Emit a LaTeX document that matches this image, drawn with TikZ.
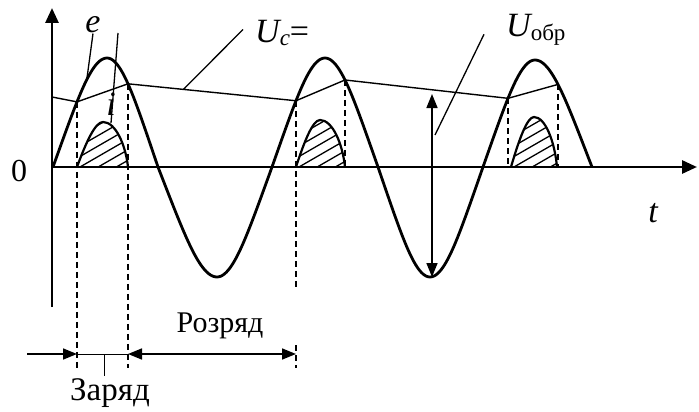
\documentclass[tikz,border=0pt]{standalone}
\usepackage{fontspec}
\setmainfont{Liberation Serif}
\usetikzlibrary{arrows.meta,calc}
\newcommand\pulseshape[4]{(#1,167) .. controls ({#1+0.35*(#2-#1)},{167-0.55*(167-#3)}) and ({#2-0.3*(#2-#1)},#3) .. (#2,#3) .. controls ({#2+0.5*(#4-#2)},#3) and ({#4-0.1*(#4-#2)},{167-0.5*(167-#3)}) .. (#4,167)}
\newcommand\hatchedpulse[4]{%
  \begin{scope}
    \clip \pulseshape{#1}{#2}{#3}{#4};
    \foreach \k in {0,...,9} \draw[hatch] ({#1-10},{122+10.5*\k}) -- ++(80,-46.2);
  \end{scope}
  \draw[pulse] \pulseshape{#1}{#2}{#3}{#4};}
\begin{document}
\begin{tikzpicture}[x=1pt,y=-1pt,
  declare function={wq(\q)=sin(\q)*(1-0.12*cos(\q)*cos(\q));},
  axis/.style={line width=2.8pt,-{Triangle[length=15pt,width=13pt]}},
  wave/.style={line width=2.8pt,line join=round},
  ucline/.style={line width=1.4pt,line join=round},
  dashline/.style={line width=1.5pt,dash pattern=on 6pt off 4pt},
  leader/.style={line width=1.3pt},
  pulse/.style={line width=2.2pt,line join=round},
  hatch/.style={line width=1.3pt},
  dim/.style={line width=1.6pt},
  thin/.style={line width=1pt},
  lbl/.style={font=\fontsize{34}{34}\selectfont\itshape,inner sep=0pt},
  txt/.style={font=\fontsize{30}{30}\selectfont,inner sep=0pt}
]
\useasboundingbox (0,0) rectangle (699,412);

% axes
\coordinate (ybot) at (52,307);
\coordinate (ytop) at (52,8);
\coordinate (xl) at (52,167);
\coordinate (xr) at (697,167);
\draw[axis] (ybot) -- (ytop);
\draw[axis] (xl) -- (xr);
\node[font=\fontsize{32}{32}\selectfont,inner sep=0pt] (zero) at (19,171) {0};
\node[lbl,anchor=base] (t) at (653,222) {t};

% capacitor voltage vertices
\coordinate (u0) at (52,97);
\coordinate (u1) at (77,{167-109*wq(40)});
\coordinate (u2) at (128,{167-109*wq(127.06)});
\coordinate (u3) at (296,{167-109*wq(40.75)});
\coordinate (u4) at (345,{167-109*wq(123.96)});
\coordinate (u5) at (508,{167-107*wq(43.27)});
\coordinate (u6) at (558,{167-107*wq(126.3)});

% dashed verticals
\draw[dashline] (u1) -- (77,368);
\draw[dashline] (u2) -- (128,368);
\draw[dashline] (u3) -- (296,290);
\draw[dashline] (296,345) -- (296,368);
\draw[dashline] (u4) -- (345,167);
\draw[dashline] (u5) -- (508,167);
\draw[dashline] (u6) -- (558,167);

% current pulses
\hatchedpulse{77}{103}{122}{128}
\hatchedpulse{296}{320}{120}{345}
\hatchedpulse{511}{534}{117}{557}

% e(t)
\draw[wave] plot[domain=0:90,samples=30] ({53+54*\x/90},{167-109*wq(\x)})
 -- plot[domain=90:180,samples=30] ({107+51*(\x-90)/90},{167-109*wq(\x)})
 -- plot[domain=180:270,samples=30] ({158+59*(\x-180)/90},{167-110*wq(\x)})
 -- plot[domain=270:360,samples=30] ({217+55*(\x-270)/90},{167-110*wq(\x)})
 -- plot[domain=360:450,samples=30] ({272+53*(\x-360)/90},{167-109*wq(\x)})
 -- plot[domain=450:540,samples=30] ({325+53*(\x-450)/90},{167-109*wq(\x)})
 -- plot[domain=540:630,samples=30] ({378+52*(\x-540)/90},{167-110*wq(\x)})
 -- plot[domain=630:720,samples=30] ({430+53*(\x-630)/90},{167-110*wq(\x)})
 -- plot[domain=720:810,samples=30] ({483+52*(\x-720)/90},{167-107*wq(\x)})
 -- plot[domain=810:900,samples=30] ({535+57*(\x-810)/90},{167-107*wq(\x)});

% Uc line
\draw[ucline] (u0) -- (u1) -- (u2) -- (u3) -- (u4) -- (u5) -- (u6);

% labels and leaders
\node[lbl,anchor=base] (e) at (93,33) {e};
\coordinate (eend) at (87,78);
\draw[leader] (e.south) -- (eend);

\coordinate (itop) at (118,33);
\coordinate (ipk) at (111,123);
\draw[leader] (itop) -- (ipk);
\node[lbl,anchor=base] (i) at (111,115) {i};

\node[lbl,anchor=base west] (uc) at (255,43) {U\raisebox{-3pt}{\fontsize{23}{23}\selectfont c}\upshape=};
\coordinate (ucend) at ($(u2)!0.33!(u3)$);
\draw[leader] ([shift={(-12,-4)}]uc.west) -- (ucend);

\node[lbl,anchor=base west] (uobr) at (506,37) {U\raisebox{-4pt}{\upshape\fontsize{23}{23}\selectfont обр}};
\coordinate (uobrend) at (435,135);
\draw[leader] ([shift={(-22,4)}]uobr.west) -- (uobrend);

% reverse voltage arrow
\coordinate (rv1) at (432,94);
\coordinate (rv2) at (432,277);
\draw[dim,{Triangle[length=14pt,width=11pt]}-{Triangle[length=14pt,width=11pt]}] (rv1) -- (rv2);

% bottom: charge / discharge
\coordinate (a0) at (27,354);
\coordinate (a1) at (77,354);
\coordinate (a2) at (128,354);
\coordinate (a3) at (296,354);
\coordinate (tk1) at (104,354);
\coordinate (tk2) at (104,376);
\draw[dim,-{Triangle[length=14pt,width=11pt]}] (a0) -- (a1);
\draw[thin] (a1) -- (a2);
\draw[dim,{Triangle[length=14pt,width=11pt]}-{Triangle[length=14pt,width=11pt]}] (a2) -- (a3);
\draw[thin] (tk1) -- (tk2);
\node[txt] (rozr) at (220,326) {Розряд};
\node[txt,font=\fontsize{33}{33}\selectfont] (zar) at (110,393) {Заряд};
\end{tikzpicture}
\end{document}
